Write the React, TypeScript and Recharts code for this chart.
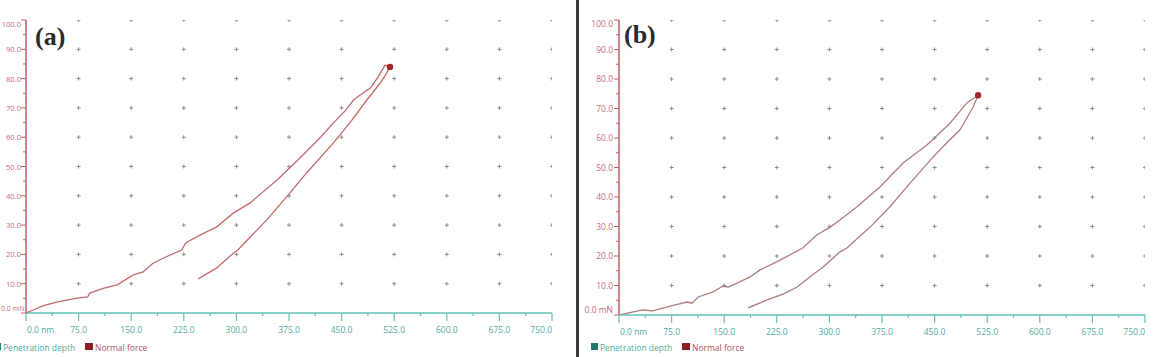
import React from 'react';
import { ComposedChart, Line, Scatter, XAxis, YAxis } from 'recharts';

// ---- axis ticks ----
const xTicks = [0, 37.5, 75, 112.5, 150, 187.5, 225, 262.5, 300, 337.5, 375, 412.5, 450, 487.5, 525, 562.5, 600, 637.5, 675, 712.5, 750];
const xMajor = [0, 75, 150, 225, 300, 375, 450, 525, 600, 675, 750];
const yTicks = [0, 5, 10, 15, 20, 25, 30, 35, 40, 45, 50, 55, 60, 65, 70, 75, 80, 85, 90, 95, 100];
const yMajor = [0, 10, 20, 30, 40, 50, 60, 70, 80, 90, 100];

// ---- panel (a) ----
const loadA_depth = [0, 12, 24, 45, 73, 88, 91, 110, 130, 153, 167, 181, 200, 222, 225, 228, 248, 272, 295, 319, 358, 391, 420, 438, 455, 467, 480, 491, 502, 512, 519];
const loadA_force = [0, 1.2, 2.4, 3.8, 5.1, 5.5, 6.8, 8.4, 9.6, 13, 14, 17, 19.2, 21.5, 22.8, 24, 26.6, 29.4, 34, 37.5, 45.4, 53, 60, 64.8, 69, 72.7, 75, 76.8, 80.5, 84.6, 84];
const unloadA_depth = [519, 512, 505, 486, 462, 438, 400, 374, 343, 316, 302, 296, 272, 248, 245];
const unloadA_force = [84, 81, 78.5, 72.7, 65, 58, 47.8, 40.3, 31.7, 25, 21.5, 20.5, 15.4, 12, 11.6];
const peakA = { d: 519, f: 84 };

// ---- panel (b) ----
const loadB_depth = [0, 34, 48, 73, 97, 104, 113, 134, 148, 156, 172, 187, 201, 225, 262, 282, 301, 315, 339, 372, 405, 439, 472, 496, 512];
const loadB_force = [0, 1.7, 1.4, 3, 4.4, 4, 6.1, 7.8, 9.8, 9.5, 11.2, 12.9, 15.3, 18, 22.7, 27.1, 29.8, 32.2, 36.6, 43.4, 51.5, 57.6, 65, 71.9, 74.5];
const unloadB_depth = [512, 505, 486, 467, 448, 415, 386, 358, 325, 315, 291, 272, 254, 234, 211, 184];
const unloadB_force = [74.5, 70.5, 62.7, 58.3, 53.6, 44.7, 36.6, 29.8, 22.7, 21.4, 16.3, 12.9, 9.5, 7.1, 5.1, 2.4];
const peakB = { d: 512, f: 74.5 };

const legendLabels = ['Penetration depth', 'Normal force'];

// ---- helpers ----
const zip = (d: number[], f: number[]) => d.map((v, i) => ({ d: v, f: f[i] }));
const gridPts = xMajor.filter((x) => x > 0).flatMap((x) => yMajor.filter((y) => y > 0).map((y) => ({ d: x, f: y })));

const Y_AXIS = '#bf5f6a';
const Y_LABEL = '#c46e78';
const X_AXIS = '#62c2b6';
const X_LABEL = '#4fae9f';
const TEAL_SQ = '#1f7a68';
const RED_SQ = '#8c1f24';
const FONT = '"Open Sans", "DejaVu Sans", sans-serif';

const makeYTick = (fontSize: number, gap: number, tight: boolean) => (props: any) => {
  const { x, y, payload } = props;
  const v = payload.value as number;
  const major = v % 10 === 0;
  let dy = 3;
  if (v === 100) dy = 7;
  if (v === 0) dy = -2;
  const label = v === 0 ? '0.0 mN' : v.toFixed(1);
  const zeroTight = tight && v === 0;
  return (
    <g>
      <line x1={x - (major ? 5 : 3)} x2={x} y1={y} y2={y} stroke={Y_AXIS} strokeWidth={1} />
      {major && (
        <text
          x={zeroTight ? 1 : x - gap}
          y={y + dy}
          textAnchor={zeroTight ? 'start' : 'end'}
          fontSize={zeroTight ? 7 : fontSize}
          fill={Y_LABEL}
          fontFamily={FONT}
        >
          {label}
        </text>
      )}
    </g>
  );
};

const YTickA = makeYTick(7.6, 5, true);
const YTickB = makeYTick(8.5, 6, false);

const XTick = (props: any) => {
  const { x, y, payload } = props;
  const v = payload.value as number;
  const major = Math.abs(v / 75 - Math.round(v / 75)) < 1e-6;
  const label = v === 0 ? '0.0 nm' : v.toFixed(1);
  const anchor = v === 0 ? 'start' : v === 750 ? 'end' : 'middle';
  return (
    <g>
      <line x1={x} x2={x} y1={y} y2={y + (major ? 8 : 3)} stroke={X_AXIS} strokeWidth={1.2} />
      {major && (
        <text x={v === 0 ? x + 1 : x} y={y + 20} textAnchor={anchor} fontSize={8.5} fill={X_LABEL} fontFamily={FONT}>
          {label}
        </text>
      )}
    </g>
  );
};

const GridMark = (p: any) => (
  <path d={`M${p.cx - 2},${p.cy}h4M${p.cx},${p.cy - 2}v4`} stroke="#8e8e8e" strokeWidth={1} fill="none" />
);

const PeakMark = (p: any) => <circle cx={p.cx} cy={p.cy} r={3.2} fill="#a3262b" />;

type PanelProps = {
  load: { d: number; f: number }[];
  unload: { d: number; f: number }[];
  peak: { d: number; f: number };
  width: number;
  yWidth: number;
  rightMargin: number;
  bottomMargin: number;
  lineColor: string;
  YTick: any;
};

const Panel = ({ load, unload, peak, width, yWidth, rightMargin, bottomMargin, lineColor, YTick }: PanelProps) => (
  <ComposedChart width={width} height={357} margin={{ top: 20, right: rightMargin, bottom: bottomMargin, left: 0 }}>
    <XAxis
      dataKey="d"
      type="number"
      domain={[0, 750]}
      ticks={xTicks}
      interval={0}
      tickSize={0}
      tickMargin={0}
      tick={<XTick />}
      height={30}
      stroke={X_AXIS}
      strokeWidth={1.5}
      allowDataOverflow
    />
    <YAxis
      dataKey="f"
      type="number"
      domain={[0, 100]}
      ticks={yTicks}
      interval={0}
      tickSize={0}
      tickMargin={0}
      tick={<YTick />}
      width={yWidth}
      stroke={Y_AXIS}
      strokeWidth={1.5}
      allowDataOverflow
    />
    <Scatter data={gridPts} dataKey="f" shape={<GridMark />} isAnimationActive={false} />
    <Line data={load} dataKey="f" type="linear" dot={false} stroke={lineColor} strokeWidth={1.3} isAnimationActive={false} />
    <Line data={unload} dataKey="f" type="linear" dot={false} stroke={lineColor} strokeWidth={1.3} isAnimationActive={false} />
    <Scatter data={[peak]} dataKey="f" shape={<PeakMark />} isAnimationActive={false} />
  </ComposedChart>
);

const LegendRow = ({ left }: { left: number }) => (
  <div style={{ position: 'absolute', left, top: 340, height: 14, fontFamily: FONT, fontSize: 8.5 }}>
    <div style={{ position: 'absolute', left: 0, top: 3, width: 7, height: 7, background: TEAL_SQ }} />
    <div style={{ position: 'absolute', left: 9, top: 2, color: X_LABEL, whiteSpace: 'nowrap', lineHeight: '12px' }}>{legendLabels[0]}</div>
    <div style={{ position: 'absolute', left: 91, top: 3, width: 8, height: 7, background: RED_SQ }} />
    <div style={{ position: 'absolute', left: 101, top: 2, color: '#b0505a', whiteSpace: 'nowrap', lineHeight: '12px' }}>{legendLabels[1]}</div>
  </div>
);

export default function App() {
  return (
    <div style={{ position: 'absolute', left: 0, top: 0, width: 1155, height: 357, background: '#fff', overflow: 'hidden' }}>
      <div style={{ position: 'absolute', left: 0, top: 0 }}>
        <Panel load={zip(loadA_depth, loadA_force)} unload={zip(unloadA_depth, unloadA_force)} peak={peakA} width={570} yWidth={26} rightMargin={18} bottomMargin={14} lineColor="#c46a6a" YTick={YTickA} />
      </div>
      <div style={{ position: 'absolute', left: 580, top: 0 }}>
        <Panel load={zip(loadB_depth, loadB_force)} unload={zip(unloadB_depth, unloadB_force)} peak={peakB} width={575} yWidth={39} rightMargin={10} bottomMargin={12} lineColor="#ad7f7f" YTick={YTickB} />
      </div>
      <div style={{ position: 'absolute', left: 576, top: 0, width: 3, height: 357, background: '#3a3a3a' }} />
      <div style={{ position: 'absolute', left: 35, top: 24, fontFamily: '"Liberation Serif", serif', fontWeight: 'bold', fontSize: 26, lineHeight: '26px', color: '#2b2b2b' }}>(a)</div>
      <div style={{ position: 'absolute', left: 624, top: 22, fontFamily: '"Liberation Serif", serif', fontWeight: 'bold', fontSize: 26, lineHeight: '26px', color: '#2b2b2b' }}>(b)</div>
      <LegendRow left={-6} />
      <LegendRow left={591} />
    </div>
  );
}
